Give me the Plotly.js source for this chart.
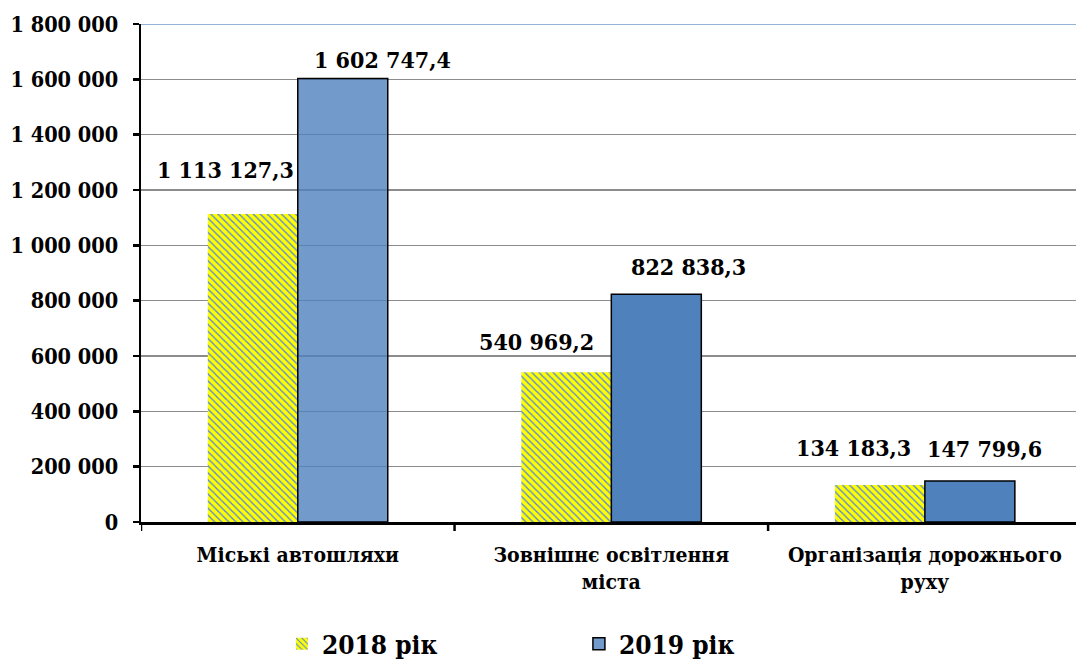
<!DOCTYPE html>
<html>
<head>
<meta charset="utf-8">
<script src="https://cdn.plot.ly/plotly-3.0.1.min.js"></script>
<style>html,body{margin:0;padding:0;background:#fff;}#chart{width:1076px;height:668px;}</style>
</head>
<body>
<div id="chart"></div>
<script>
// ---- data ----
var categories = ['Міські автошляхи', 'Зовнішнє освітлення<br>міста', 'Організація дорожнього<br>руху'];
var seriesNames = ['2018 рік', '2019 рік'];
var values2018 = [1113127.3, 540969.2, 134183.3];
var values2019 = [1602747.4, 822838.3, 147799.6];
var yTickVals = [0, 200000, 400000, 600000, 800000, 1000000, 1200000, 1400000, 1600000, 1800000];
var yTickText = ['0', '200 000', '400 000', '600 000', '800 000', '1 000 000', '1 200 000', '1 400 000', '1 600 000', '1 800 000'];

// label offsets (px) – styling only
var shift2018 = [[-27, 45], [-30, 31], [-26, 37]];
var shift2019 = [[40, 19], [32, 28], [15, 33]];

function fmt(v) {
  var s = v.toFixed(1).split('.');
  var intPart = s[0].replace(/\B(?=(\d{3})+(?!\d))/g, ' ');
  return intPart + ',' + s[1];
}

var FONT = "DejaVu Serif Condensed";
var xIdx = categories.map(function (c, i) { return i; });

var trace2018 = {
  type: 'bar', name: seriesNames[0], x: xIdx, y: values2018,
  marker: {
    color: '#ffff00',
    line: {width: 0},
    pattern: {shape: '\\', bgcolor: '#ffff00', fgcolor: '#5a86e0', size: 5, solidity: 0.28, fgopacity: 1}
  },
  hoverinfo: 'none'
};
var trace2019 = {
  type: 'bar', name: seriesNames[1], x: xIdx, y: values2019,
  marker: {
    color: ['rgba(79,129,189,0.8)', '#4f81bd', '#4f81bd'],
    line: {width: 1.5, color: '#000'}
  },
  hoverinfo: 'none'
};

var barHalf = 0.1435;
var annotations = [];
values2018.forEach(function (v, i) {
  annotations.push({x: i - barHalf, y: v, xref: 'x', yref: 'y', text: '<b>' + fmt(v) + '</b>', showarrow: false,
    xshift: shift2018[i][0], yshift: shift2018[i][1],
    font: {family: FONT, size: 23, color: '#000'}});
});
values2019.forEach(function (v, i) {
  annotations.push({x: i + barHalf, y: v, xref: 'x', yref: 'y', text: '<b>' + fmt(v) + '</b>', showarrow: false,
    xshift: shift2019[i][0], yshift: shift2019[i][1],
    font: {family: FONT, size: 23, color: '#000'}});
});

var layout = {
  width: 1076, height: 668,
  margin: {l: 141, r: 0, t: 24, b: 146, pad: 0, autoexpand: false},
  paper_bgcolor: '#fff', plot_bgcolor: '#fff',
  barmode: 'group', bargap: 0.426, bargroupgap: 0,
  showlegend: true,
  legend: {
    orientation: 'h', xref: 'container', yref: 'container',
    x: 0.262, y: 0.036, xanchor: 'left', yanchor: 'middle',
    entrywidth: 252, entrywidthmode: 'pixels',
    font: {family: FONT, size: 26, color: '#000', weight: 'bold'},
    bgcolor: 'rgba(0,0,0,0)'
  },
  xaxis: {
    type: 'linear', range: [-0.5, 2.482], automargin: false,
    tickmode: 'array', tickvals: xIdx, ticktext: categories.map(function (c) { return '<b>' + c + '</b>'; }),
    tickangle: 0,
    showgrid: false, zeroline: false,
    showline: true, linecolor: '#000', linewidth: 2.5,
    ticks: '',
    tickfont: {family: FONT, size: 21, color: '#000'},
    ticklabelstandoff: 12
  },
  yaxis: {
    range: [0, 1800000], tickmode: 'array', tickvals: yTickVals, automargin: false,
    ticktext: yTickText.map(function (t) { return '<b>' + t + '</b>'; }),
    showgrid: true, gridcolor: '#8c8c8c', gridwidth: 1.5,
    zeroline: false, showline: true, linecolor: '#000', linewidth: 2.5,
    ticks: 'outside', ticklen: 6, tickwidth: 2.5, tickcolor: '#000',
    tickfont: {family: FONT, size: 21.5, color: '#000'},
    ticklabelstandoff: 10
  },
  shapes: [
    {type: 'line', xref: 'paper', yref: 'y', x0: 0, x1: 1, y0: 1800000, y1: 1800000,
     line: {color: '#95b3d7', width: 2}, layer: 'above'}
  ].concat([-0.5, 0.5, 1.5].map(function (b) {
    return {type: 'line', xref: 'x', yref: 'paper', x0: b, x1: b,
      ysizemode: 'pixel', yanchor: 0, y0: 0, y1: -9,
      line: {color: '#000', width: 2.5}};
  })),
  annotations: annotations
};

Plotly.newPlot('chart', [trace2018, trace2019], layout, {displayModeBar: false, staticPlot: true});
</script>
</body>
</html>
